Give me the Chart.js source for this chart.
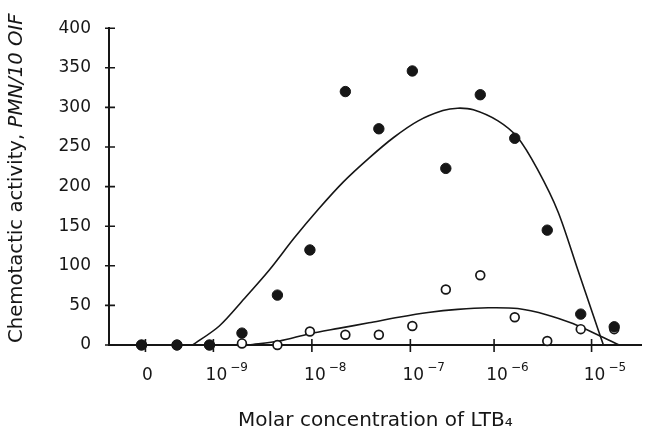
<!DOCTYPE html>
<html>
<head>
<meta charset="utf-8">
<script src="https://cdn.jsdelivr.net/npm/chart.js@4.4.1/dist/chart.umd.min.js"></script>
<style>
  html, body { margin: 0; padding: 0; background: #fff; }
  #wrap { width: 648px; height: 439px; }
</style>
</head>
<body>
<div id="wrap"><canvas id="chemoChart"></canvas></div>
<script>
// log10 of molar concentration ("0" = no LTB4, drawn left of 10^-9)
const doseX = [-9.73, -9.37, -9.04, -8.71, -8.35, -8.02, -7.66, -7.32, -6.98, -6.64, -6.29, -5.94, -5.61, -5.27, -4.93];
const filledY = [0, 0, 0, 15, 63, 120, 320, 273, 346, 223, 316, 261, 145, 39, 23];
const openY = [0, 0, 0, 2, 0, 17, 13, 13, 24, 70, 88, 35, 5, 20, 20];

// fitted curves
const fitFilledX = [-9.21, -8.94, -8.69, -8.43, -8.18, -7.93, -7.68, -7.42, -7.17, -6.92, -6.67, -6.52, -6.36, -6.11, -5.91, -5.71, -5.5, -5.3, -5.15, -5.04];
const fitFilledY = [0, 24, 58, 95, 135, 172, 206, 236, 262, 283, 296, 299, 297, 283, 262, 222, 168, 95, 40, 0];
const fitOpenX = [-8.64, -8.33, -8.03, -7.73, -7.42, -7.12, -6.82, -6.52, -6.21, -5.91, -5.61, -5.35, -5.1, -4.88];
const fitOpenY = [0, 5, 14, 21, 28, 35, 41, 45, 47, 46, 38, 27, 13, 0];

const xTickValues = [-9.69, -9, -8, -7, -6.15, -5.16];
const xTickBase = ["0", "10", "10", "10", "10", "10"];
const xTickExp = ["", "\u22129", "\u22128", "\u22127", "\u22126", "\u22125"];
const yTickValues = [0, 50, 100, 150, 200, 250, 300, 350, 400];

const ink = "#161616";
const fontFamily = '"DejaVu Sans", "Liberation Sans", sans-serif';

const pairs = (xs, ys) => xs.map((x, i) => ({ x: x, y: ys[i] }));

const axisMarks = {
  id: "axisMarks",
  afterDraw(chart) {
    const { ctx, chartArea } = chart;
    const x = chart.scales.x;
    const y = chart.scales.y;
    ctx.save();
    ctx.strokeStyle = ink;
    ctx.lineWidth = 1.6;
    ctx.beginPath();
    yTickValues.forEach((v) => {
      const py = y.getPixelForValue(v);
      ctx.moveTo(chartArea.left - 4, py);
      ctx.lineTo(chartArea.left + 6, py);
    });
    xTickValues.forEach((v) => {
      const px = x.getPixelForValue(v);
      ctx.moveTo(px, chartArea.bottom - 6);
      ctx.lineTo(px, chartArea.bottom + 7);
    });
    ctx.stroke();

    // x tick labels: 10 with a raised exponent
    ctx.fillStyle = ink;
    ctx.textAlign = "left";
    ctx.textBaseline = "alphabetic";
    const baseY = chartArea.bottom + 35;
    xTickValues.forEach((v, i) => {
      const px = x.getPixelForValue(v);
      ctx.font = "17px " + fontFamily;
      const wb = ctx.measureText(xTickBase[i]).width;
      const x0 = xTickExp[i] ? px - wb / 2 + 3 : px - wb / 2 + 2;
      ctx.fillText(xTickBase[i], x0, baseY);
      if (xTickExp[i]) {
        ctx.font = "12px " + fontFamily;
        ctx.fillText(xTickExp[i], x0 + wb + 3, baseY - 9);
      }
    });

    // y title, last part in italics
    ctx.translate(17, 343);
    ctx.rotate(-Math.PI / 2);
    ctx.textBaseline = "middle";
    const first = "Chemotactic activity, ";
    ctx.font = "19.7px " + fontFamily;
    ctx.fillText(first, 0, 0);
    const w = ctx.measureText(first).width;
    ctx.font = "italic 19.7px " + fontFamily;
    ctx.fillText("PMN/10 OIF", w, 0);
    ctx.restore();
  },
};

new Chart(document.getElementById("chemoChart").getContext("2d"), {
  type: "scatter",
  data: {
    datasets: [
      {
        label: "filled",
        data: pairs(doseX, filledY),
        pointRadius: 5.2,
        pointBackgroundColor: ink,
        pointBorderColor: ink,
        pointBorderWidth: 1,
        clip: false,
      },
      {
        label: "open",
        data: pairs(doseX, openY),
        pointRadius: 4.4,
        pointBackgroundColor: "#fff",
        pointBorderColor: ink,
        pointBorderWidth: 1.7,
        clip: false,
      },
      {
        label: "fit filled",
        data: pairs(fitFilledX, fitFilledY),
        showLine: true,
        pointRadius: 0,
        borderColor: ink,
        borderWidth: 1.6,
        tension: 0.3,
      },
      {
        label: "fit open",
        data: pairs(fitOpenX, fitOpenY),
        showLine: true,
        pointRadius: 0,
        borderColor: ink,
        borderWidth: 1.6,
        tension: 0.3,
      },
    ],
  },
  options: {
    responsive: true,
    maintainAspectRatio: false,
    animation: false,
    layout: { padding: { top: 16, right: 3, left: 0, bottom: 0 } },
    plugins: {
      legend: { display: false },
      tooltip: { enabled: false },
    },
    scales: {
      x: {
        type: "linear",
        min: -10.06,
        max: -4.65,
        afterBuildTicks: (scale) => {
          scale.ticks = xTickValues.map((v) => ({ value: v }));
        },
        afterFit: (scale) => {
          scale.height = 94;
        },
        grid: { display: false, drawTicks: false },
        border: { display: true, color: ink, width: 2 },
        ticks: { display: false },
        title: {
          display: true,
          text: "Molar concentration of LTB\u2084",
          color: ink,
          font: { family: fontFamily, size: 20 },
          padding: { top: 0, bottom: 6 },
        },
      },
      y: {
        min: 0,
        max: 400,
        afterBuildTicks: (scale) => {
          scale.ticks = yTickValues.map((v) => ({ value: v }));
        },
        afterFit: (scale) => {
          scale.width = 109;
        },
        grid: { display: false, drawTicks: false },
        border: { display: true, color: ink, width: 2 },
        ticks: {
          color: ink,
          padding: 18,
          font: { family: fontFamily, size: 17 },
        },
      },
    },
  },
  plugins: [axisMarks],
});
</script>
</body>
</html>
